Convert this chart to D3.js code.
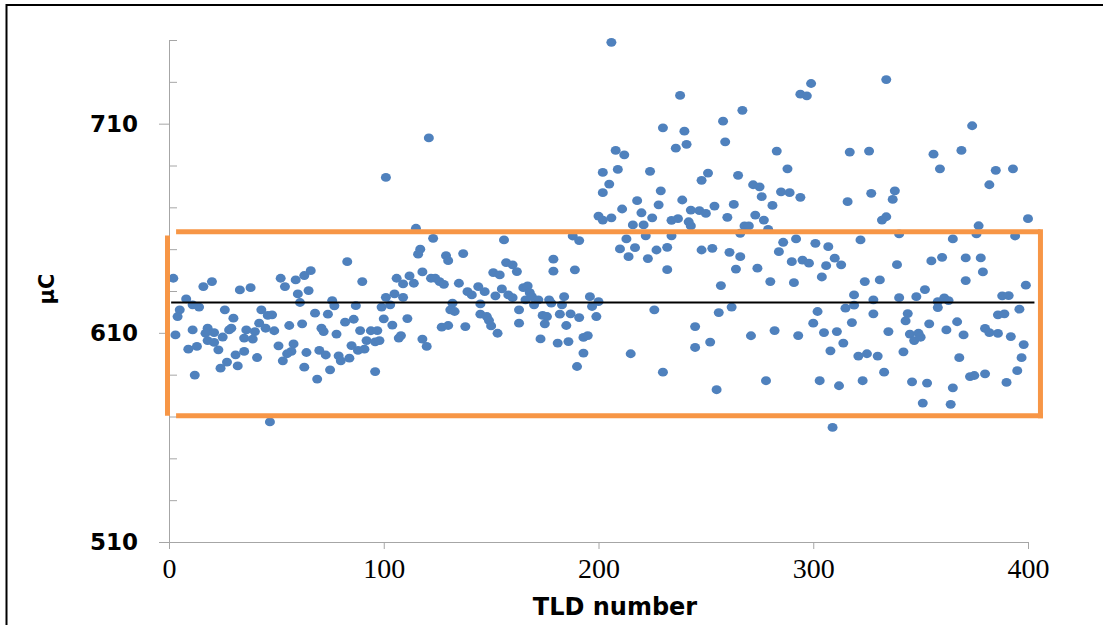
<!DOCTYPE html>
<html><head><meta charset="utf-8">
<script src="https://cdn.jsdelivr.net/npm/d3@7"></script>
<style>html,body{margin:0;padding:0;background:#fff;}svg{display:block;}</style>
</head><body>
<script>
// ---- data ----
const tldNumber = [
2,16,20,8,5,4,11,14,3,11,9,13,12,18,17,18,21,21,23,25,28,29,26,30,33,38,52,54,59,63,66,60,61,65,43,46,48,42,45,40,36,35,39,49,56,62,51,58,57,55,53,64,63,41,35,31,32,27,24,47,
121,101,115,123,117,116,129,130,83,90,106,112,109,114,118,122,124,126,128,101,105,109,76,77,87,99,103,68,74,71,72,78,82,86,89,94,97,100,104,111,127,130,85,88,91,92,96,98,107,108,118,120,70,73,79,80,84,69,75,96,
202,202,200,202,156,188,191,137,157,160,162,151,154,179,179,189,135,139,141,144,147,152,155,158,160,165,167,168,166,169,172,177,178,184,183,170,145,196,200,197,132,131,133,145,148,149,150,153,138,163,163,174,176,175,182,185,187,191,199,173,181,186,193,195,193,190,
215,230,255,245,245,252,256,262,226,
206,238,230,240,236,241,208,212,258,259,267,209,205,224,229,248,251,265,218,228,239,211,220,225,206,243,247,250,254,263,260,234,237,242,243,216,221,222,234,266,268,213,217,210,214,223,227,232,248,253,261,266,232,264,257,
299,294,297,334,283,317,326,288,272,275,276,285,289,294,281,316,327,273,277,270,279,332,334,286,292,284,301,307,322,290,295,298,310,306,313,274,280,291,304,324,331,319,328,315,319,302,328,300,318,271,282,293,305,311,314,308,321,325,330,335,333,278,303,312,323,309,
374,356,369,359,385,393,382,338,337,400,377,340,376,394,365,339,355,360,371,378,379,371,399,352,348,340,358,361,363,358,388,391,396,386,389,344,343,354,367,362,345,349,347,350,370,380,382,386,392,398,342,368,397,346,353,365,373,375,380,390,395,351,364
];
const charge = [
636.1,632.1,634.5,626.2,621,617.8,623.4,622.3,609,611.4,602.2,603.5,589.8,612.2,609.8,606.3,610.1,605.4,601.9,608,611.4,612.2,621,617,630.5,631.6,636.1,632.1,635.3,637.4,639.7,628.6,624.5,630.2,621,618.3,618.6,614.6,612.2,610.6,611.4,607.5,607,611,613.5,614.3,603.8,604.7,601.1,600,596.6,600.6,593.6,598.2,601.1,599.5,594.2,596,593.1,567.4,
703.2,684.3,660,655.2,650,647.6,646.9,644.5,644,634.5,636.1,637.2,633.4,633.7,639.1,636.1,636.1,634.5,633.2,627,628.6,627,625.4,622.9,623,622.3,623.4,619.4,618.9,612.2,610.6,609.4,615.1,616.5,611.1,611,611.1,616.7,613.7,616.8,612.7,613.5,603.9,601.6,602.2,606.3,605.7,606.3,607.5,608.7,607,603.5,601.6,599.4,599,596.6,597.9,587.9,592.3,591.5,
686.7,677,665.8,663.9,654.4,656.3,654.1,647.9,643.6,642.5,639.3,638.8,637.7,645.2,639.5,640.1,633.7,629.7,628.1,632.1,629.7,627.7,631,628.1,626.8,631.6,632.4,629.2,625.8,627.3,625.8,625.8,624.2,627.3,623.4,623.4,623.8,627.3,624.9,622.6,624.2,621,620.2,618.9,617.8,615.9,613.3,609.8,613,621,614.6,618.3,617.8,614.3,618.9,613.5,619.1,617.3,617.8,607.1,605.1,605.8,607.8,608.7,600.3,593.9,
600,591.2,582.8,613,603,605.6,619.7,622.3,621,
748.9,723.5,708,706.4,698.3,700.1,697.2,695.1,711.2,701.3,716.4,688.1,681.1,687.2,677.9,682.9,686.4,685.3,673.2,671.2,673.5,669.2,667.4,665,665,668.7,668.4,667.1,670.6,671.4,665.2,663.8,664.6,663.1,661.1,661.6,661.6,656.4,656.4,657.6,661.1,654.9,650.7,650.1,646.4,645.5,649.6,650.9,649.6,650.4,648.5,646.4,640.2,640.5,632.6,
729.2,724.1,723.3,731.1,696.9,696.4,696.9,688.4,680.8,679.8,675.1,677.4,677,674.8,670.9,672.7,676.7,666.3,663.9,661.1,659.5,663.9,665.5,653.3,654.9,648.8,652.8,651.2,654.4,644,644.8,643.3,645.7,642.1,642.5,640.9,634.5,634,636.7,634.5,635.3,628.1,625.8,621.8,623.2,620.2,619.1,614.6,614.9,608.6,611.1,608.7,610.1,610.6,605.1,601.4,598.9,600,598.9,610.6,591.2,587.1,587.1,584.7,587.1,564.8,
709,695.4,697.2,688.4,687.7,688.4,680.8,677.9,673.8,664.6,661.2,657.3,657.3,656.3,654.9,642.6,644.4,646.1,645.8,645.8,639.1,635,632.8,630.7,627.3,626.8,624.9,626.7,625.4,622.1,627.7,627.8,621.3,618.6,619.1,619.2,615.7,614.3,615.3,611.4,609.4,609.8,606.3,607.9,609,612.1,610.1,609.7,608.2,604.4,600.9,598.1,598.1,586.6,586,583.7,589.1,589.6,590.4,586.3,591.9,576.4,575.8
];
const xTicks = [0, 100, 200, 300, 400];
const yMajorTicks = [510, 610, 710];
const yMinorTicks = [530, 550, 570, 590, 630, 650, 670, 690, 730, 750];
const meanValue = 624.5;
const meanRange = [1, 403];
// orange control box (data units)
const boxX = [-0.7, 3.3, 405.8];   // left edge, start of horizontals, right edge
const boxY = [658.3, 656.5, 570.4]; // top, top of left edge, bottom
const xTitle = "TLD number";
const yTitle = "μC";

const W = 1103, H = 625;
const svg = d3.select("body").append("svg").attr("width", W).attr("height", H);
svg.append("rect").attr("width", W).attr("height", H).attr("fill", "#fff");
svg.append("rect").attr("x", 6.5).attr("y", 5).attr("width", 1120).attr("height", 640)
  .attr("fill", "none").attr("stroke", "#000").attr("stroke-width", 2);

const x = d3.scaleLinear().domain([0, 400]).range([169, 1028]);
const y = d3.scaleLinear().domain([510, 750]).range([542, 40]);
const axisColor = "#a6a6a6";

// y axis major
const gy = svg.append("g").attr("transform", `translate(${x(0)},0)`)
  .call(d3.axisLeft(y).tickValues(yMajorTicks).tickSize(10).tickSizeOuter(0).tickPadding(21).tickFormat(d3.format("d")));
gy.select(".domain").attr("stroke", axisColor);
gy.selectAll(".tick line").attr("stroke", axisColor);
gy.selectAll(".tick text").attr("fill", "#000").style("font-family", "'DejaVu Sans', Verdana, sans-serif")
  .style("font-weight", "bold").style("font-size", "23px");
// y minor ticks inside
const gym = svg.append("g").attr("transform", `translate(${x(0)},0)`)
  .call(d3.axisRight(y).tickValues(yMinorTicks).tickSize(8).tickSizeOuter(0).tickFormat(""));
gym.select(".domain").remove();
gym.selectAll(".tick line").attr("stroke", axisColor);

// x axis
const gx = svg.append("g").attr("transform", `translate(0,${y(510)})`)
  .call(d3.axisBottom(x).tickValues(xTicks).tickSize(7).tickSizeOuter(0).tickPadding(9).tickFormat(d3.format("d")));
gx.select(".domain").attr("stroke", axisColor);
gx.selectAll(".tick line").attr("stroke", axisColor);
gx.selectAll(".tick text").attr("fill", "#000").style("font-family", "'Liberation Serif', 'Times New Roman', serif")
  .style("font-size", "28px");

// points
svg.append("g").selectAll("ellipse").data(tldNumber.map((t, i) => [t, charge[i]])).join("ellipse")
  .attr("cx", d => x(d[0])).attr("cy", d => y(d[1])).attr("rx", 5).attr("ry", 4.4)
  .attr("fill", "#4f81bd");

// mean line
svg.append("line").attr("x1", x(meanRange[0])).attr("x2", x(meanRange[1]))
  .attr("y1", y(meanValue)).attr("y2", y(meanValue)).attr("stroke", "#000").attr("stroke-width", 2);

// orange box
const orange = "#f79646";
const ob = svg.append("g").attr("stroke", orange).attr("stroke-width", 5).attr("fill", "none");
ob.append("line").attr("x1", x(boxX[1])).attr("x2", x(boxX[2])).attr("y1", y(boxY[0])).attr("y2", y(boxY[0]));
ob.append("line").attr("x1", x(boxX[1])).attr("x2", x(boxX[2]) + 2.5).attr("y1", y(boxY[2])).attr("y2", y(boxY[2]));
ob.append("line").attr("x1", x(boxX[0])).attr("x2", x(boxX[0])).attr("y1", y(boxY[1])).attr("y2", y(boxY[2]));
ob.append("line").attr("x1", x(boxX[2])).attr("x2", x(boxX[2])).attr("y1", y(boxY[0]) - 2.5).attr("y2", y(boxY[2]) + 2.5);

// titles
svg.append("text").attr("x", 615).attr("y", 615).attr("text-anchor", "middle")
  .style("font-family", "'DejaVu Sans', Verdana, sans-serif").style("font-weight", "bold").style("font-size", "24px")
  .text(xTitle);
svg.append("text").attr("transform", "translate(47,289) rotate(-90)").attr("text-anchor", "middle")
  .attr("dominant-baseline", "central")
  .style("font-family", "'DejaVu Sans', Verdana, sans-serif").style("font-weight", "bold").style("font-size", "21px")
  .text(yTitle);
</script>
</body></html>
